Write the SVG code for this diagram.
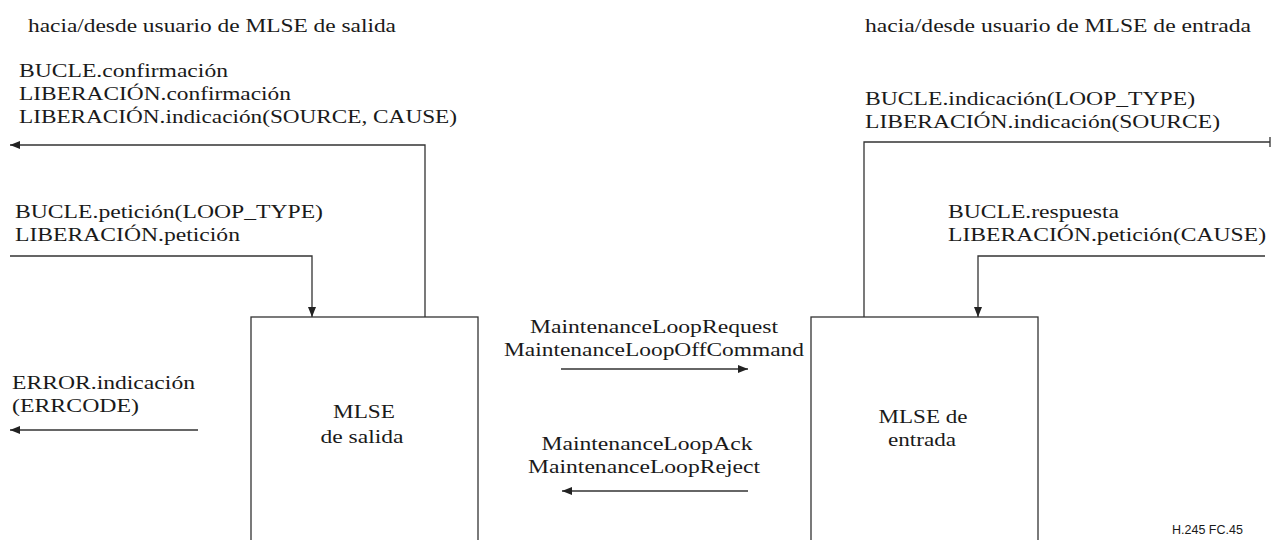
<svg xmlns="http://www.w3.org/2000/svg" width="1271" height="540" viewBox="0 0 1271 540">
<style>
.t{font-family:"Liberation Serif","Times New Roman",Times,serif;font-size:19px;fill:#1a1a1a}
.c{text-anchor:middle}
.lab{font-family:"Liberation Sans",Arial,Helvetica,sans-serif;font-size:12.5px;fill:#1a1a1a}
.ln{fill:none;stroke:#333;stroke-width:1.3}
.box{fill:none;stroke:#333;stroke-width:1.3}
</style>
<defs>
<marker id="ah" viewBox="0 0 10 8" refX="10" refY="4" markerWidth="10" markerHeight="8" markerUnits="userSpaceOnUse" orient="auto">
<path d="M0,0 L10,4 L0,8 Z" fill="#222"/>
</marker>
</defs>
<rect width="1271" height="540" fill="#fff"/>
<g id="headings" class="t" lengthAdjust="spacingAndGlyphs">
<text x="28" y="32" textLength="368" lengthAdjust="spacingAndGlyphs">hacia/desde usuario de MLSE de salida</text>
<text x="865" y="32" textLength="386" lengthAdjust="spacingAndGlyphs">hacia/desde usuario de MLSE de entrada</text>
</g>
<g id="mlse-salida">
<rect class="box" x="251" y="317" width="227" height="230"/>
<text class="t c" x="364" y="418" textLength="62" lengthAdjust="spacingAndGlyphs">MLSE</text>
<text class="t c" x="362" y="443" textLength="83" lengthAdjust="spacingAndGlyphs">de salida</text>
</g>
<g id="mlse-entrada">
<rect class="box" x="811" y="317" width="227" height="230"/>
<text class="t c" x="923" y="423" textLength="89" lengthAdjust="spacingAndGlyphs">MLSE de</text>
<text class="t c" x="922" y="446" textLength="68" lengthAdjust="spacingAndGlyphs">entrada</text>
</g>
<g id="connectors">
<path class="ln" d="M425,317 V145 H10" marker-end="url(#ah)"/>
<path class="ln" d="M10,256 H312 V317" marker-end="url(#ah)"/>
<path class="ln" d="M198,430 H10" marker-end="url(#ah)"/>
<path class="ln" d="M561,369 H748" marker-end="url(#ah)"/>
<path class="ln" d="M748,491 H562" marker-end="url(#ah)"/>
<path class="ln" d="M864,317 V142 H1270"/>
<path class="ln" d="M1270,137 V147"/>
<path class="ln" d="M1265,256 H978 V317" marker-end="url(#ah)"/>
</g>
<g id="labels" class="t">
<text x="19" y="77" textLength="209" lengthAdjust="spacingAndGlyphs">BUCLE.confirmación</text>
<text x="19" y="100" textLength="272" lengthAdjust="spacingAndGlyphs">LIBERACIÓN.confirmación</text>
<text x="19" y="123" textLength="438" lengthAdjust="spacingAndGlyphs">LIBERACIÓN.indicación(SOURCE, CAUSE)</text>
<text x="15" y="218" textLength="308" lengthAdjust="spacingAndGlyphs">BUCLE.petición(LOOP_TYPE)</text>
<text x="15" y="241" textLength="225" lengthAdjust="spacingAndGlyphs">LIBERACIÓN.petición</text>
<text x="12" y="389" textLength="183" lengthAdjust="spacingAndGlyphs">ERROR.indicación</text>
<text x="12" y="412" textLength="127" lengthAdjust="spacingAndGlyphs">(ERRCODE)</text>
<text class="c" x="654" y="333" textLength="248" lengthAdjust="spacingAndGlyphs">MaintenanceLoopRequest</text>
<text class="c" x="654" y="356" textLength="300" lengthAdjust="spacingAndGlyphs">MaintenanceLoopOffCommand</text>
<text class="c" x="647" y="450" textLength="211" lengthAdjust="spacingAndGlyphs">MaintenanceLoopAck</text>
<text class="c" x="644" y="473" textLength="232" lengthAdjust="spacingAndGlyphs">MaintenanceLoopReject</text>
<text x="865" y="105" textLength="330" lengthAdjust="spacingAndGlyphs">BUCLE.indicación(LOOP_TYPE)</text>
<text x="865" y="128" textLength="355" lengthAdjust="spacingAndGlyphs">LIBERACIÓN.indicación(SOURCE)</text>
<text x="948" y="218" textLength="171" lengthAdjust="spacingAndGlyphs">BUCLE.respuesta</text>
<text x="948" y="241" textLength="318" lengthAdjust="spacingAndGlyphs">LIBERACIÓN.petición(CAUSE)</text>
</g>
<g id="figure-id">
<text class="lab" x="1172" y="534">H.245  FC.45</text>
</g>
</svg>
